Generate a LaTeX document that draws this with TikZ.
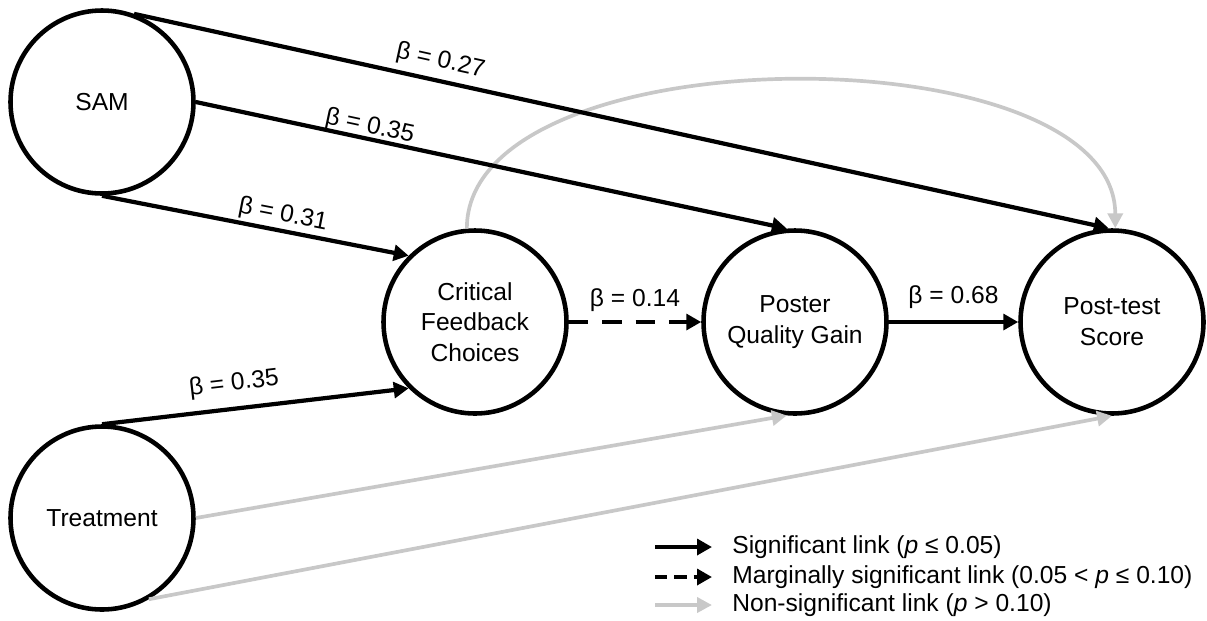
\documentclass[tikz,border=0pt]{standalone}
\usepackage{fontspec}
\setmainfont{Liberation Sans}
\usepackage{tikz}
\usetikzlibrary{arrows.meta}
\definecolor{nsgray}{RGB}{200,200,200}

\begin{document}
\begin{tikzpicture}[
            var/.style={circle, draw, line width=2.6pt, minimum size=3.66cm, inner sep=0pt, align=center, font=\fontsize{14}{17.5}\selectfont},
            sig/.style={line width=2.4pt, -{Triangle[length=8.5pt,width=9pt]}},
            marg/.style={sig, dash pattern=on 11pt off 8pt},
            nonsig/.style={line width=2.1pt, nsgray, -{Triangle[length=8.5pt,width=8.5pt]}},
            coef/.style={font=\fontsize{14}{17}\selectfont},
            legtext/.style={anchor=west, inner sep=0pt, font=\fontsize{14}{17}\selectfont}
            ]
            \useasboundingbox (0,0) rectangle (24.14,-12.4);

            \node[var] (sam) at (2.04,-2.04) {SAM};
            \node[var] (treat) at (2.04,-10.36) {Treatment};
            \node[var] (cfc) at (9.5,-6.44) {Critical\\Feedback\\Choices};
            \node[var] (pqg) at (15.9,-6.44) {Poster\\Quality Gain};
            \node[var] (post) at (22.24,-6.44) {Post-test\\Score};

            \draw[nonsig] (cfc.95) to[out=90, in=90, looseness=0.78] (post.88);
            \draw[nonsig] (treat.east) -- (pqg.265);
            \draw[nonsig] (treat.300) -- (post.270);

            \draw[sig] (sam.70) -- node[coef, pos=0.31, sloped, above] {β = 0.27} (post.92);
            \draw[sig] (sam.east) -- node[coef, pos=0.29, sloped, above=-4pt] {β = 0.35} (pqg.95);
            \draw[sig] (sam.south) -- node[coef, pos=0.58, sloped, above=-2pt] {β = 0.31} (cfc.135);
            \draw[sig] (treat.north) -- node[coef, pos=0.44, sloped, above=3pt] {β = 0.35} (cfc.225);
            \draw[marg] (cfc) -- node[coef, above=1.5pt] {β = 0.14} (pqg);
            \draw[sig] (pqg) -- node[coef, above=3pt] {β = 0.68} (post);

            \node[legtext] (lsig) at (14.64,-10.94) {Significant link (\textit{p} ≤ 0.05)};
            \node[legtext] (lmarg) at (14.64,-11.54) {Marginally significant link (0.05 < \textit{p} ≤ 0.10)};
            \node[legtext] (lnon) at (14.64,-12.1) {Non-significant link (\textit{p} > 0.10)};
            \draw[sig, line width=2.8pt] ([xshift=-1.54cm]lsig.west) -- ([xshift=-0.4cm]lsig.west);
            \draw[marg, line width=2.8pt, dash pattern=on 7pt off 4pt] ([xshift=-1.54cm]lmarg.west) -- ([xshift=-0.4cm]lmarg.west);
            \draw[nonsig, line width=2.8pt] ([xshift=-1.54cm]lnon.west) -- ([xshift=-0.4cm]lnon.west);
\end{tikzpicture}
\end{document}
